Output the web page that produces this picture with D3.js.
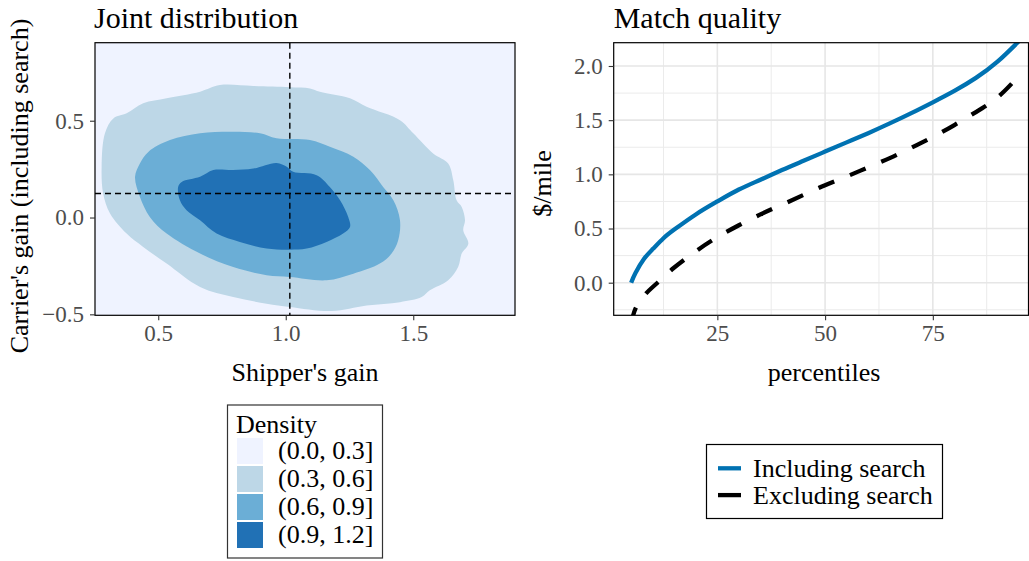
<!DOCTYPE html>
<html lang="en">
  <head>
    <meta charset="UTF-8" />
    <title>Joint distribution and match quality</title>
    <style>
      body {
        margin: 0;
        background: #ffffff;
      }
      svg text {
        font-family: "Liberation Serif", "DejaVu Serif", serif;
      }
    </style>
  </head>
  <body>
    <div class="svg-container"></div>
    <script src="https://d3js.org/d3.v7.min.js"></script>
    <script>
      // ---- data ----
      var densityLevels = ["(0.0, 0.3]", "(0.3, 0.6]", "(0.6, 0.9]", "(0.9, 1.2]"];

      // contour outlines, in (shipper's gain, carrier's gain) units
      var contour03 = [
        [0.278, 0.262], [0.291, 0.435], [0.324, 0.512], [0.376, 0.538], [0.441, 0.59],
        [0.533, 0.616], [0.664, 0.65], [0.742, 0.684], [0.873, 0.679], [1.016, 0.673],
        [1.095, 0.667], [1.134, 0.65], [1.252, 0.616], [1.317, 0.572], [1.448, 0.503],
        [1.5, 0.435], [1.578, 0.331], [1.637, 0.279], [1.657, 0.193], [1.67, 0.089],
        [1.69, 0.055], [1.703, -0.014], [1.696, -0.066], [1.716, -0.135], [1.69, -0.186],
        [1.676, -0.256], [1.637, -0.324], [1.565, -0.376], [1.533, -0.411], [1.448, -0.437],
        [1.317, -0.454], [1.18, -0.483], [1.016, -0.462], [0.925, -0.445], [0.794, -0.411],
        [0.664, -0.359], [0.533, -0.238], [0.441, -0.152], [0.376, -0.083], [0.311, 0.021],
        [0.284, 0.124]
      ];
      var contour06 = [
        [0.409, 0.21], [0.428, 0.279], [0.461, 0.339], [0.546, 0.4], [0.664, 0.435],
        [0.794, 0.443], [0.899, 0.435], [0.964, 0.409], [1.095, 0.4], [1.173, 0.365],
        [1.265, 0.314], [1.33, 0.245], [1.382, 0.158], [1.422, 0.089], [1.448, -0.014],
        [1.441, -0.117], [1.415, -0.186], [1.369, -0.238], [1.265, -0.29], [1.16, -0.324],
        [1.016, -0.307], [0.925, -0.298], [0.794, -0.256], [0.664, -0.186], [0.533, -0.083],
        [0.467, 0.003], [0.428, 0.107]
      ];
      var contour09 = [
        [0.578, 0.158], [0.592, 0.184], [0.664, 0.21], [0.716, 0.245], [0.794, 0.245],
        [0.873, 0.253], [0.964, 0.282], [1.004, 0.262], [1.029, 0.236], [1.121, 0.219],
        [1.173, 0.158], [1.213, 0.089], [1.245, 0.003], [1.252, -0.049], [1.225, -0.083],
        [1.16, -0.126], [1.082, -0.16], [1.016, -0.166], [0.925, -0.16], [0.82, -0.126],
        [0.729, -0.083], [0.664, -0.014], [0.611, 0.038], [0.585, 0.089]
      ];
      var meanShipper = 1.016;
      var meanCarrier = 0.124;

      var percentiles = [5, 6, 8, 10, 12.5, 15, 20, 25, 30, 35, 40, 45, 50, 55, 60, 65, 70, 75, 80, 85, 90, 95];
      var includingSearch = [0.0, 0.09, 0.22, 0.31, 0.41, 0.49, 0.63, 0.75, 0.86, 0.95, 1.04, 1.125, 1.21, 1.295, 1.38, 1.47, 1.565, 1.665, 1.77, 1.89, 2.04, 2.23];
      var excludingSearch = [-0.38, -0.24, -0.12, -0.04, 0.05, 0.14, 0.29, 0.42, 0.53, 0.63, 0.72, 0.81, 0.9, 0.98, 1.065, 1.15, 1.245, 1.345, 1.455, 1.575, 1.71, 1.91];
      var seriesNames = ["Including search", "Excluding search"];

      var leftXTicks = [0.5, 1.0, 1.5];
      var leftYTicks = [-0.5, 0.0, 0.5];
      var rightXTicks = [25, 50, 75];
      var rightYTicks = [0.0, 0.5, 1.0, 1.5, 2.0];
      var rightXMinor = [12.5, 37.5, 62.5, 87.5];
      var rightYMinor = [-0.25, 0.25, 0.75, 1.25, 1.75];

      // ---- styles ----
      var blues = ["#eff3ff", "#bdd7e7", "#6baed6", "#2171b5"];
      var lineBlue = "#0072b2";
      var serif = '"Liberation Serif", "DejaVu Serif", serif';

      var width = 1029,
        height = 561;

      var svg = d3
        .select(".svg-container")
        .append("svg")
        .attr("width", width)
        .attr("height", height);

      // panel boxes
      var pl = { left: 95, right: 515, top: 42.7, bottom: 315.3 };
      var pr = { left: 613.7, right: 1028.5, top: 42.7, bottom: 315.3 };

      var xL = d3.scaleLinear().domain([0.252, 1.899]).range([pl.left, pl.right]);
      var yL = d3.scaleLinear().domain([-0.505, 0.903]).range([pl.bottom, pl.top]);
      var xR = d3.scaleLinear().domain([0.95, 97.2]).range([pr.left, pr.right]);
      var yR = d3.scaleLinear().domain([-0.301, 2.215]).range([pr.bottom, pr.top]);

      // restyle a d3 axis like ggplot's
      function styleAxis(g) {
        g.attr("font-family", null).attr("font-size", null);
        g.select(".domain").remove();
        g.selectAll(".tick line").attr("stroke", "#333333").attr("stroke-width", 1.1);
        g.selectAll(".tick text")
          .attr("fill", "#4d4d4d")
          .style("font-family", serif)
          .style("font-size", "23px");
      }

      var defs = svg.append("defs");
      defs.append("clipPath").attr("id", "clipL")
        .append("rect")
        .attr("x", pl.left).attr("y", pl.top)
        .attr("width", pl.right - pl.left).attr("height", pl.bottom - pl.top);
      defs.append("clipPath").attr("id", "clipR")
        .append("rect")
        .attr("x", pr.left).attr("y", pr.top)
        .attr("width", pr.right - pr.left).attr("height", pr.bottom - pr.top);

      // ================= left panel =================
      var left = svg.append("g");

      left.append("rect")
        .attr("x", pl.left).attr("y", pl.top)
        .attr("width", pl.right - pl.left).attr("height", pl.bottom - pl.top)
        .attr("fill", blues[0]);

      var contourLine = d3
        .line()
        .curve(d3.curveCatmullRomClosed.alpha(0.5))
        .x((d) => xL(d[0]))
        .y((d) => yL(d[1]));

      var contourG = left.append("g").attr("clip-path", "url(#clipL)");
      [contour03, contour06, contour09].forEach(function (c, i) {
        contourG.append("path")
          .attr("d", contourLine(c))
          .attr("fill", blues[i + 1]);
      });

      // mean lines
      contourG.append("line")
        .attr("x1", xL(meanShipper)).attr("x2", xL(meanShipper))
        .attr("y1", pl.top).attr("y2", pl.bottom)
        .attr("stroke", "#000").attr("stroke-width", 1.4)
        .attr("stroke-dasharray", "6,4");
      contourG.append("line")
        .attr("x1", pl.left).attr("x2", pl.right)
        .attr("y1", yL(meanCarrier)).attr("y2", yL(meanCarrier))
        .attr("stroke", "#000").attr("stroke-width", 1.4)
        .attr("stroke-dasharray", "6,4");

      left.append("rect")
        .attr("x", pl.left).attr("y", pl.top)
        .attr("width", pl.right - pl.left).attr("height", pl.bottom - pl.top)
        .attr("fill", "none").attr("stroke", "#000").attr("stroke-width", 1.2);

      left.append("g")
        .attr("transform", "translate(0," + pl.bottom + ")")
        .call(d3.axisBottom(xL).tickValues(leftXTicks).tickSize(5).tickPadding(4).tickFormat(d3.format(".1f")))
        .call(styleAxis);
      left.append("g")
        .attr("transform", "translate(" + pl.left + ",0)")
        .call(d3.axisLeft(yL).tickValues(leftYTicks).tickSize(5).tickPadding(6).tickFormat(d3.format(".1f")))
        .call(styleAxis);

      left.append("text")
        .attr("x", pl.left - 1).attr("y", 27.5)
        .style("font-size", "30px")
        .text("Joint distribution");
      left.append("text")
        .attr("x", (pl.left + pl.right) / 2).attr("y", 381)
        .attr("text-anchor", "middle")
        .style("font-size", "26px")
        .text("Shipper's gain");
      left.append("text")
        .attr("transform", "translate(28,186) rotate(-90)")
        .attr("text-anchor", "middle")
        .style("font-size", "26px")
        .text("Carrier's gain (including search)");

      // density legend
      var legL = left.append("g");
      legL.append("rect")
        .attr("x", 227.5).attr("y", 405)
        .attr("width", 155).attr("height", 153)
        .attr("fill", "#fff").attr("stroke", "#333").attr("stroke-width", 1.2);
      legL.append("text")
        .attr("x", 236).attr("y", 433)
        .style("font-size", "26px")
        .text("Density");
      var keyL = legL.selectAll(".key")
        .data(densityLevels)
        .enter()
        .append("g")
        .attr("class", "key")
        .attr("transform", (d, i) => "translate(0," + (438 + i * 28) + ")");
      keyL.append("rect")
        .attr("x", 237).attr("y", 0)
        .attr("width", 26).attr("height", 26)
        .attr("fill", (d, i) => blues[i]);
      keyL.append("text")
        .attr("x", 278).attr("y", 21)
        .style("font-size", "26px")
        .text((d) => d);

      // ================= right panel =================
      var right = svg.append("g");

      var grid = right.append("g");
      grid.selectAll(".gxm").data(rightXMinor).enter().append("line")
        .attr("x1", (d) => xR(d)).attr("x2", (d) => xR(d))
        .attr("y1", pr.top).attr("y2", pr.bottom)
        .attr("stroke", "#ebebeb").attr("stroke-width", 1);
      grid.selectAll(".gym").data(rightYMinor).enter().append("line")
        .attr("x1", pr.left).attr("x2", pr.right)
        .attr("y1", (d) => yR(d)).attr("y2", (d) => yR(d))
        .attr("stroke", "#ebebeb").attr("stroke-width", 1);
      grid.selectAll(".gx").data(rightXTicks).enter().append("line")
        .attr("x1", (d) => xR(d)).attr("x2", (d) => xR(d))
        .attr("y1", pr.top).attr("y2", pr.bottom)
        .attr("stroke", "#e6e6e6").attr("stroke-width", 1.6);
      grid.selectAll(".gy").data(rightYTicks).enter().append("line")
        .attr("x1", pr.left).attr("x2", pr.right)
        .attr("y1", (d) => yR(d)).attr("y2", (d) => yR(d))
        .attr("stroke", "#e6e6e6").attr("stroke-width", 1.6);

      var qLine = d3
        .line()
        .curve(d3.curveNatural)
        .x((d) => xR(d[0]))
        .y((d) => yR(d[1]));

      var lines = right.append("g").attr("clip-path", "url(#clipR)");
      lines.append("path")
        .attr("d", qLine(d3.zip(percentiles, excludingSearch)))
        .attr("fill", "none").attr("stroke", "#000")
        .attr("stroke-width", 4.3).attr("stroke-dasharray", "17,17");
      lines.append("path")
        .attr("d", qLine(d3.zip(percentiles, includingSearch)))
        .attr("fill", "none").attr("stroke", lineBlue)
        .attr("stroke-width", 4.3);

      right.append("rect")
        .attr("x", pr.left).attr("y", pr.top)
        .attr("width", pr.right - pr.left).attr("height", pr.bottom - pr.top)
        .attr("fill", "none").attr("stroke", "#000").attr("stroke-width", 1.2);

      right.append("g")
        .attr("transform", "translate(0," + pr.bottom + ")")
        .call(d3.axisBottom(xR).tickValues(rightXTicks).tickSize(5).tickPadding(4))
        .call(styleAxis);
      right.append("g")
        .attr("transform", "translate(" + pr.left + ",0)")
        .call(d3.axisLeft(yR).tickValues(rightYTicks).tickSize(5).tickPadding(6).tickFormat(d3.format(".1f")))
        .call(styleAxis);

      right.append("text")
        .attr("x", pr.left).attr("y", 27.5)
        .style("font-size", "30px")
        .text("Match quality");
      right.append("text")
        .attr("x", (pr.left + pr.right) / 2 + 3).attr("y", 381)
        .attr("text-anchor", "middle")
        .style("font-size", "26px")
        .text("percentiles");
      right.append("text")
        .attr("transform", "translate(551,183.5) rotate(-90)")
        .attr("text-anchor", "middle")
        .style("font-size", "26px")
        .text("$/mile");

      // line legend
      var legR = right.append("g");
      legR.append("rect")
        .attr("x", 706.5).attr("y", 444.5)
        .attr("width", 236).attr("height", 74)
        .attr("fill", "#fff").attr("stroke", "#000").attr("stroke-width", 1.2);
      var keyR = legR.selectAll(".lkey")
        .data(seriesNames)
        .enter()
        .append("g")
        .attr("class", "lkey")
        .attr("transform", (d, i) => "translate(0," + (468.3 + i * 26.8) + ")");
      keyR.append("line")
        .attr("x1", 718).attr("x2", 741)
        .attr("y1", 0).attr("y2", 0)
        .attr("stroke", (d, i) => (i === 0 ? lineBlue : "#000"))
        .attr("stroke-width", 4.3);
      keyR.append("text")
        .attr("x", 753).attr("y", 9)
        .style("font-size", "26px")
        .text((d) => d);
    </script>
  </body>
</html>
